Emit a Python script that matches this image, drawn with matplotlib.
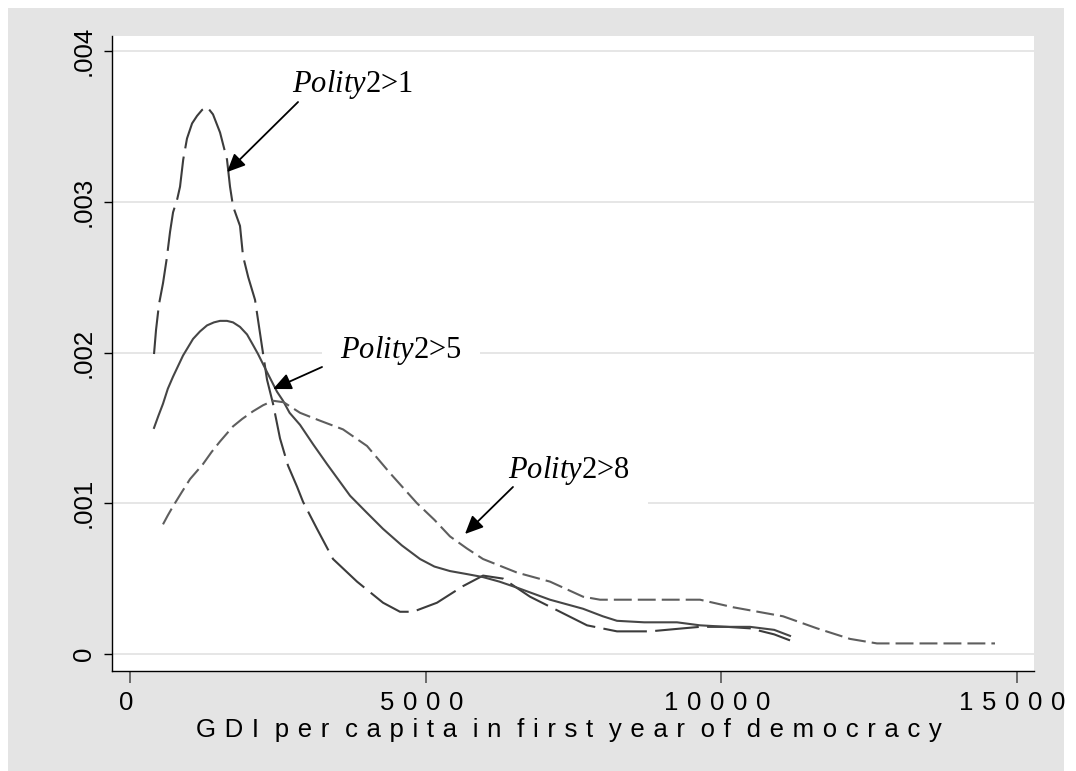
import matplotlib
matplotlib.use("Agg")
import matplotlib.pyplot as plt
import matplotlib.transforms as mtransforms
from matplotlib.patches import Rectangle

# ---------------- data ----------------
gdi_p1 = [406, 440, 490, 558, 620, 677, 728, 800, 846, 900, 964, 1050, 1134, 1220, 1303,
          1404, 1523, 1641, 1692, 1743, 1861, 1912, 2000, 2115, 2233, 2318, 2420, 2538, 2673,
          2826, 2927, 3164, 3435, 3841, 4281, 4568, 4788, 5194, 5634, 5973, 6312, 6768, 7276,
          7733, 8240, 8798, 9357, 9645, 10100, 10490, 10900, 11168]
dens_p1 = [0.00199, 0.00215, 0.00232, 0.00246, 0.00262, 0.00280, 0.00293, 0.00302, 0.00310,
           0.00328, 0.00342, 0.00352, 0.00357, 0.00361, 0.00363, 0.00358, 0.00346, 0.00328,
           0.00310, 0.00297, 0.00284, 0.00264, 0.00250, 0.00235, 0.00204, 0.00182, 0.00166,
           0.00143, 0.00125, 0.00111, 0.00101, 0.00083, 0.00063, 0.00048, 0.00034, 0.00028,
           0.00028, 0.00034, 0.00045, 0.00052, 0.00050, 0.00038, 0.00028, 0.00019, 0.00015,
           0.00015, 0.00017, 0.00018, 0.00018, 0.00017, 0.00013, 0.00009]

gdi_p5 = [406, 480, 558, 640, 728, 897, 1066, 1184, 1303, 1420, 1523, 1640, 1743, 1861, 1980,
          2081, 2166, 2318, 2487, 2589, 2700, 2877, 3100, 3333, 3723, 4000, 4281, 4600, 4907,
          5150, 5414, 5700, 5973, 6250, 6548, 7106, 7665, 8000, 8240, 8700, 9255, 9645, 10100,
          10490, 10900, 11168]
dens_p5 = [0.00150, 0.00158, 0.00166, 0.00176, 0.00184, 0.00198, 0.00209, 0.00214, 0.00218,
           0.00220, 0.00221, 0.00221, 0.00220, 0.00217, 0.00212, 0.00205, 0.00199, 0.00187,
           0.00174, 0.00168, 0.00160, 0.00152, 0.00139, 0.00126, 0.00105, 0.00094, 0.00083,
           0.00072, 0.00063, 0.00058, 0.00055, 0.00053, 0.00051, 0.00048, 0.00044, 0.00036,
           0.00030, 0.00025, 0.00022, 0.00021, 0.00021, 0.00019, 0.00018, 0.00018, 0.00016,
           0.00012]

gdi_p8 = [558, 640, 728, 870, 1015, 1235, 1380, 1523, 1743, 1900, 2081, 2250, 2420, 2600,
          2877, 3200, 3604, 4010, 4399, 4856, 5150, 5414, 5700, 5973, 6548, 7106, 7665, 7953,
          8240, 9000, 9645, 10203, 11049, 11624, 12182, 12639, 13587, 14636]
dens_p8 = [0.00086, 0.00092, 0.00098, 0.00107, 0.00116, 0.00126, 0.00134, 0.00141, 0.00151,
           0.00156, 0.00161, 0.00165, 0.00168, 0.00167, 0.00160, 0.00155, 0.00149, 0.00138,
           0.00120, 0.00100, 0.00089, 0.00078, 0.00070, 0.00063, 0.00054, 0.00048, 0.00038,
           0.00036, 0.00036, 0.00036, 0.00036, 0.00031, 0.00025, 0.00017, 0.00010, 0.00007,
           0.00007, 0.00007]

xticks = [0, 5000, 10000, 15000]
xtick_labels = ["0", "5000", "10000", "15000"]
yticks = [0, 0.001, 0.002, 0.003, 0.004]
ytick_labels = ["0", ".001", ".002", ".003", ".004"]
x_title = "GDI per capita in first year of democracy"

labels = ["1", "5", "8"]
label_xy = [(2741, 0.003728), (3553, 0.001963), (6396, 0.001167)]
arrow_tail = [(2843, 0.003662), (3249, 0.001904), (6480, 0.001108)]
arrow_tip = [(1641, 0.003197), (2420, 0.001758), (5668, 0.000796)]

# ---------------- style ----------------
plt.rcParams["font.family"] = ["Liberation Sans", "DejaVu Sans"]
plt.rcParams["mathtext.fontset"] = "custom"
plt.rcParams["mathtext.it"] = "Liberation Serif:italic"
plt.rcParams["mathtext.rm"] = "Liberation Serif"

TICK_SP = "\u2004"                # letter spacing for tick numbers
LET_SP = "\u2004"                 # letter spacing inside words of the title
WORD_SP = "\u2004 "               # spacing between words of the title


def spaced_title(s):
    return WORD_SP.join(LET_SP.join(w) for w in s.split(" "))


W, H = 1076, 771
fig = plt.figure(figsize=(W / 100, H / 100), dpi=100, facecolor="white")
fig.patches.append(Rectangle((8 / W, 0), (1064 - 8) / W, 1 - 8 / H,
                             transform=fig.transFigure, facecolor="#E4E4E4",
                             edgecolor="none", zorder=-10))

ax = fig.add_axes([112 / W, 1 - 671 / H, (1034 - 112) / W, (671 - 36) / H])
ax.set_facecolor("white")
ax.set_xlim(-305, 15296)
ax.set_ylim(-0.000113, 0.0041)

for sp in ["top", "right"]:
    ax.spines[sp].set_visible(False)
for sp in ["left", "bottom"]:
    ax.spines[sp].set_color("black")
    ax.spines[sp].set_linewidth(1.0)

ax.set_yticks(yticks)
ax.set_yticklabels(ytick_labels, rotation=90, va="center", fontsize=18.5)
ax.set_xticks(xticks)
ax.set_xticklabels([TICK_SP.join(t) for t in xtick_labels], fontsize=18.5)
ax.tick_params(axis="y", direction="out", length=5.8, width=1.0, color="black", pad=6.0)
ax.tick_params(axis="x", direction="out", length=8.6, width=1.2, color="#555555", pad=6.0)

offset = mtransforms.ScaledTranslation(-4 / 100, 0, fig.dpi_scale_trans)
for lbl in ax.get_xticklabels():
    lbl.set_transform(lbl.get_transform() + offset)

ax.yaxis.grid(True, color="#E2E2E2", linewidth=1.2, zorder=0)
ax.set_axisbelow(True)

ax.set_xlabel(spaced_title(x_title), fontsize=18.5)
ax.xaxis.set_label_coords((568.5 - 112) / 922, (671 - 718) / 635)
ax.xaxis.label.set_va("top")

# curves
ax.plot(gdi_p1, dens_p1, color="#3C3C3C", lw=1.5, dashes=(21, 4), zorder=3)
ax.plot(gdi_p5, dens_p5, color="#464646", lw=1.5, zorder=3)
ax.plot(gdi_p8, dens_p8, color="#5E5E5E", lw=1.5, dashes=(8.6, 2.9), zorder=3)

for i, (lab, (tx, ty), tail, tip) in enumerate(zip(labels, label_xy, arrow_tail, arrow_tip)):
    box = None
    if i > 0:
        box = dict(boxstyle="square,pad=0.6", facecolor="white", edgecolor="none")
    ax.text(tx, ty, r"$\mathit{Polity}$" + "2>" + lab, fontsize=22,
            family=["Liberation Serif"], ha="left", va="baseline", zorder=4, bbox=box)
    ax.annotate("", xy=tip, xytext=tail,
                arrowprops=dict(arrowstyle="-|>,head_length=0.55,head_width=0.25",
                                color="black", lw=1.3, shrinkA=0, shrinkB=0,
                                mutation_scale=20),
                zorder=5)

fig.savefig("out.png", dpi=100, facecolor=fig.get_facecolor())
